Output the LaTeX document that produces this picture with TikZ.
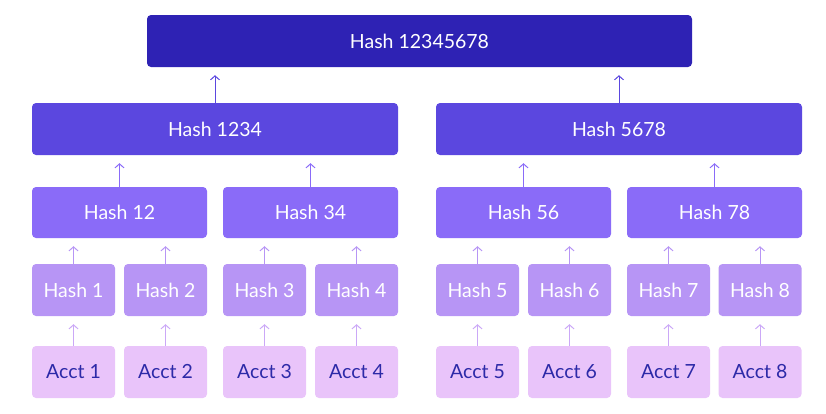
\documentclass[tikz,border=0pt]{standalone}
\usepackage{fontspec}
\setmainfont{Lato}
\usetikzlibrary{arrows.meta}
\definecolor{cTop}{HTML}{2E22B4}
\definecolor{cTwo}{HTML}{5B47DF}
\definecolor{cThree}{HTML}{8A6BF8}
\definecolor{cFour}{HTML}{B795F5}
\definecolor{cLeaf}{HTML}{E9C4FA}
\definecolor{cInk}{HTML}{2D2AA8}
\tikzset{
  box/.style={rounded corners=4pt, inner sep=0pt, font=\fontsize{19.5}{22}\selectfont, text=white},
  up/.style={-{Straight Barb[length=4pt,width=9pt]}, line width=1pt, shorten >=8pt},
}
\begin{document}
\begin{tikzpicture}[x=1pt,y=-1pt]
\useasboundingbox (0,0) rectangle (826,413);
% top
\node[box, fill=cTop, minimum width=545pt, minimum height=52pt] (h18) at (419.5,41) {Hash 12345678};
% second level
\node[box, fill=cTwo, minimum width=366pt, minimum height=52pt] (h14) at (215,129) {Hash 1234};
\node[box, fill=cTwo, minimum width=366pt, minimum height=52pt] (h58) at (619,129) {Hash 5678};
% third level
\foreach \n/\x in {12/119.5, 34/310.5, 56/523.5, 78/714.5}
  \node[box, fill=cThree, minimum width=175pt, minimum height=51pt] (h\n) at (\x,212.5) {Hash \n};
% leaves
\foreach \n/\x in {1/73.5, 2/165.5, 3/264.5, 4/356.5, 5/477.5, 6/569.5, 7/668.5, 8/760} {
  \node[box, fill=cFour, minimum width=83pt, minimum height=52pt] (h\n) at (\x,290) {Hash \n};
  \node[box, fill=cLeaf, text=cInk, minimum width=83pt, minimum height=52pt] (a\n) at (\x,372) {Acct \n};
}
% arrows
\draw[up, cTwo] (h14.north) -- (h14.north |- h18.south);
\draw[up, cTwo] (h58.north) -- (h58.north |- h18.south);
\foreach \n/\p in {12/14, 34/14, 56/58, 78/58}
  \draw[up, cThree] (h\n.north) -- (h\n.north |- h\p.south);
\foreach \n/\p in {1/12, 2/12, 3/34, 4/34, 5/56, 6/56, 7/78, 8/78} {
  \draw[up, cFour] (h\n.north) -- (h\n.north |- h\p.south);
  \draw[up, cFour!60!cLeaf] (a\n.north) -- (a\n.north |- h\n.south);
}
\end{tikzpicture}
\end{document}
